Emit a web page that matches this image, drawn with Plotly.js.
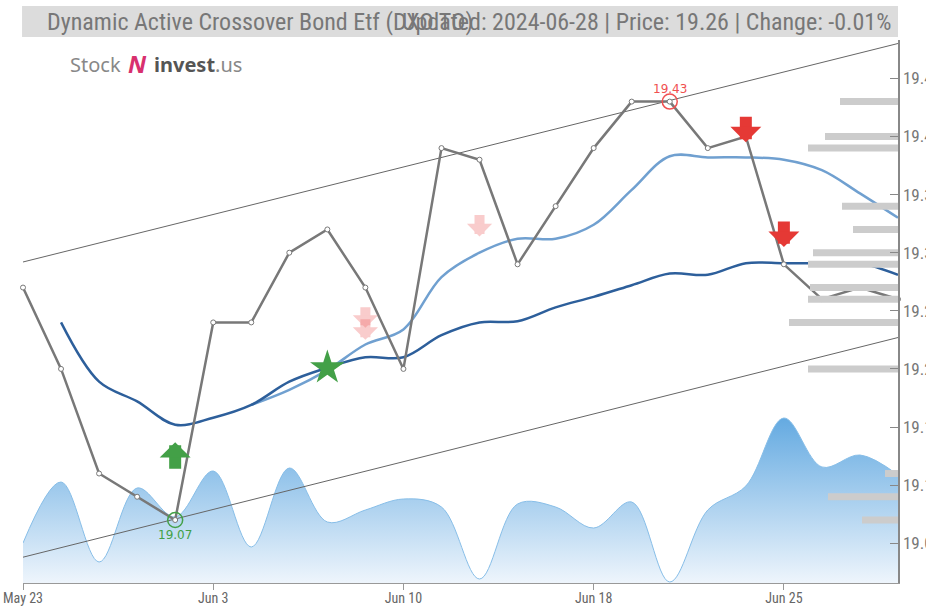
<!DOCTYPE html>
<html><head><meta charset="utf-8">
<script src="https://cdn.plot.ly/plotly-3.0.1.min.js"></script>
<style>html,body{margin:0;padding:0;background:#fff}</style>
</head><body><div id="chart" style="width:926px;height:610px"></div>
<script>
const dates = ['2024-05-23','2024-05-24','2024-05-28','2024-05-29','2024-05-30','2024-06-03','2024-06-04','2024-06-05','2024-06-06','2024-06-07','2024-06-10','2024-06-11','2024-06-12','2024-06-13','2024-06-14','2024-06-18','2024-06-19','2024-06-20','2024-06-21','2024-06-24','2024-06-25','2024-06-26','2024-06-27','2024-06-28'];
const tickDates = ['2024-05-23','2024-06-03','2024-06-10','2024-06-18','2024-06-25'];
const tickLabels = ['May 23','Jun 3','Jun 10','Jun 18','Jun 25'];
const priceTicks = [19.05,19.10,19.15,19.20,19.25,19.30,19.35,19.40,19.45];
const closePrice = [19.27,19.20,19.11,19.09,19.07,19.24,19.24,19.30,19.32,19.27,19.20,19.39,19.38,19.29,19.34,19.39,19.43,19.43,19.39,19.40,19.29,19.26,19.27,19.26];
const maShort = [null,19.240,19.189,19.172,19.152,19.158,19.169,19.189,19.201,19.210,19.210,19.229,19.240,19.241,19.253,19.262,19.272,19.282,19.281,19.291,19.291,19.291,19.291,19.281];
const maLong = [null,null,null,null,null,null,19.169,19.182,19.199,19.221,19.234,19.279,19.300,19.312,19.312,19.324,19.354,19.383,19.382,19.382,19.380,19.371,19.351,19.330];
const volume = [4000,10100,2100,9500,6600,11200,3600,11500,6100,7300,8400,7600,400,7900,7600,5500,8100,100,7300,9700,16500,11600,12800,10800];
const channelDates = ['2024-05-23','2024-06-28'];
const channelUpper = [19.292,19.480];
const channelLower = [19.038,19.227];
const profilePrice = [19.43,19.40,19.39,19.34,19.32,19.30,19.29,19.27,19.26,19.24,19.20,19.11,19.09,19.07];
const profileVolume = [58,73,90,56,45,85,90,88,90,109,90,13,70,36];
const buyDates = ['2024-05-30'];
const buyTip = [19.137];
const weakSellDates = ['2024-06-07','2024-06-12'];
const weakSellTip = [19.225,19.314];
const sellDates = ['2024-06-24','2024-06-25'];
const sellTip = [19.395,19.305];
const starDates = ['2024-06-06'];
const starPrice = [19.201];
const lowDate = '2024-05-30', lowPrice = 19.07;
const highDate = '2024-06-20', highPrice = 19.43;

const GREEN = 'rgb(67,160,71)', RED = 'rgb(229,57,53)', PINK = 'rgba(240,110,110,0.35)';
const NARROW = '"Liberation Sans Narrow", "Roboto Condensed", "Arial Narrow", "DejaVu Sans Condensed", sans-serif';

const traces = [
  {x: dates, y: volume, xaxis:'x', yaxis:'y', type:'scatter', mode:'lines',
   line:{shape:'spline', color:'rgb(135,190,232)', width:1}, fill:'tozeroy',
   fillgradient:{type:'vertical', start:0, stop:16500, colorscale:[[0,'rgb(238,245,252)'],[1,'rgb(100,170,225)']]},
   hoverinfo:'skip'},
  {x: profileVolume, y: profilePrice, xaxis:'x2', yaxis:'y2', type:'bar', orientation:'h',
   width:0.006, marker:{color:'rgb(204,204,204)'}, hoverinfo:'skip'},
  {x: channelDates, y: channelUpper, xaxis:'x', yaxis:'y2', mode:'lines', line:{color:'#666', width:1}, hoverinfo:'skip'},
  {x: channelDates, y: channelLower, xaxis:'x', yaxis:'y2', mode:'lines', line:{color:'#666', width:1}, hoverinfo:'skip'},
  {x: dates, y: maLong, xaxis:'x', yaxis:'y2', mode:'lines', line:{shape:'spline', color:'rgb(112,160,208)', width:2.5}, hoverinfo:'skip'},
  {x: dates, y: maShort, xaxis:'x', yaxis:'y2', mode:'lines', line:{shape:'spline', color:'rgb(45,95,155)', width:2.5}, hoverinfo:'skip'},
  {x: dates, y: closePrice, xaxis:'x', yaxis:'y2', mode:'lines+markers', cliponaxis:false,
   line:{color:'rgb(120,120,120)', width:2.5},
   marker:{size:5, color:'#fff', line:{color:'rgb(120,120,120)', width:1}}, hoverinfo:'skip'},
  {x: [lowDate, highDate], y: [lowPrice, highPrice], xaxis:'x', yaxis:'y2', mode:'markers',
   marker:{symbol:'circle-open', size:15, color:[GREEN, 'rgb(240,80,80)'], line:{width:1.5}}, hoverinfo:'skip'},
  {x: starDates, y: starPrice, xaxis:'x', yaxis:'y2', mode:'markers',
   marker:{symbol:'star', size:26, color:GREEN}, hoverinfo:'skip'}
];

const annotations = [];
function arrow(d, p, color, up, len, standoff, w, sz) {
  annotations.push({x:d, y:p, xref:'x', yref:'y2', text:'', showarrow:true, arrowhead:1,
    arrowwidth:w, arrowsize:sz, arrowcolor:color, ax:0, ay: up ? len : -len, standoff: standoff||0});
}
buyDates.forEach((d,i)=>arrow(d, buyTip[i], GREEN, true, 28, 0, 12, 0.43));
sellDates.forEach((d,i)=>arrow(d, sellTip[i], RED, false, 27, 0, 12, 0.43));
arrow(weakSellDates[0], weakSellTip[0], PINK, false, 22, 0, 10, 0.42);
arrow(weakSellDates[0], weakSellTip[0], PINK, false, 34, 12, 10, 0.42);
arrow(weakSellDates[1], weakSellTip[1], PINK, false, 23, 0, 10, 0.42);
annotations.push({x:lowDate, y:lowPrice, xref:'x', yref:'y2', text:'19.07', showarrow:false, yshift:-15,
  font:{family:'DejaVu Sans, sans-serif', size:12, color:GREEN}});
annotations.push({x:highDate, y:highPrice, xref:'x', yref:'y2', text:'19.43', showarrow:false, yshift:13,
  font:{family:'DejaVu Sans, sans-serif', size:12, color:'rgb(240,80,80)'}});
annotations.push({x:0.0251, y:1.034, xref:'paper', yref:'paper', xanchor:'left', yanchor:'middle', showarrow:false,
  text:'Dynamic Active Crossover Bond Etf (DXO.TO)', font:{family:NARROW, size:24, color:'#777'}});
annotations.push({x:0.9943, y:1.034, xref:'paper', yref:'paper', xanchor:'right', yanchor:'middle', showarrow:false,
  text:'Updated: 2024-06-28 | Price: 19.26 | Change: -0.01%', font:{family:NARROW, size:24, color:'#777'}});
annotations.push({x:0.0514, y:0.954, xref:'paper', yref:'paper', xanchor:'left', yanchor:'middle', showarrow:false,
  text:'Stock', font:{family:'"Noto Sans", "DejaVu Sans", sans-serif', size:20, color:'#888'}});
annotations.push({x:0.1303, y:0.956, xref:'paper', yref:'paper', xanchor:'center', yanchor:'middle', showarrow:false,
  text:'<b><i>N</i></b>', font:{family:'"Noto Sans", "DejaVu Sans", sans-serif', size:24, color:'#d8306e'}});
annotations.push({x:0.1474, y:0.954, xref:'paper', yref:'paper', xanchor:'left', yanchor:'middle', showarrow:false,
  text:'<b style="color:#555">invest</b>.us', font:{family:'"Noto Sans", "DejaVu Sans", sans-serif', size:20, color:'#888'}});

const layout = {
  width:926, height:610, margin:{l:23, r:28, t:40, b:27},
  paper_bgcolor:'#fff', plot_bgcolor:'#fff', showlegend:false, hovermode:false,
  xaxis:{type:'category', range:[0,23], tickmode:'array', tickvals:tickDates, ticktext:tickLabels,
    showline:true, linecolor:'#999', linewidth:1, ticks:'outside', ticklen:6, tickcolor:'#999', ticklabelstandoff:-4,
    tickfont:{family:NARROW, size:14, color:'#666'}, showgrid:false, zeroline:false, fixedrange:true},
  yaxis:{range:[0,54300], visible:false, fixedrange:true},
  yaxis2:{overlaying:'y', side:'right', anchor:'x', range:[19.0158,19.4830], tickmode:'array', tickvals:priceTicks,
    tickformat:'.2f', showline:true, linecolor:'#888', linewidth:1.5, ticks:'inside', ticklen:8, tickcolor:'#888',
    tickfont:{family:NARROW, size:17, color:'#777'}, showgrid:false, zeroline:false, fixedrange:true},
  xaxis2:{overlaying:'x', anchor:'y2', range:[875,0], visible:false, fixedrange:true},
  shapes:[{type:'rect', xref:'paper', yref:'paper', x0:-0.0011, x1:1, y0:1.0055, y1:1.0626,
    fillcolor:'#dcdcdc', line:{width:0}, layer:'below'}],
  annotations: annotations
};
Plotly.newPlot('chart', traces, layout, {staticPlot:true, displayModeBar:false});
</script></body></html>
